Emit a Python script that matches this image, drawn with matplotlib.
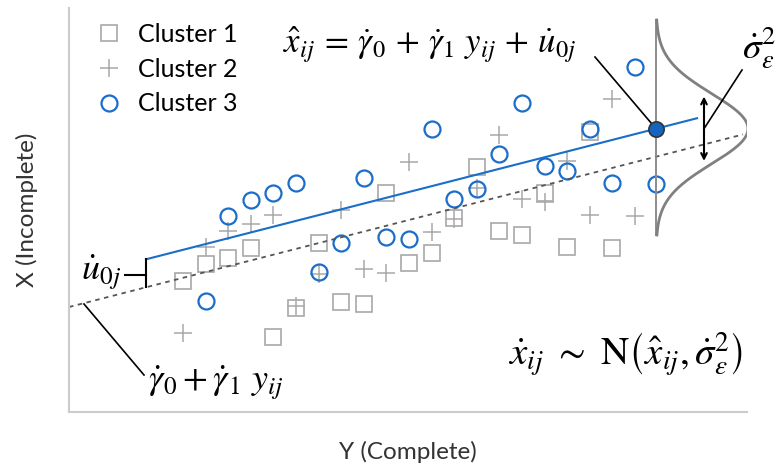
import numpy as np
import matplotlib.pyplot as plt

plt.rcParams['font.family'] = ['Lato', 'DejaVu Sans']
plt.rcParams['mathtext.fontset'] = 'stix'

# x positions shared by the clusters (pixel-like units from the axes origin)
x_grid = [114, 137, 159, 182, 204, 227, 250, 272, 295, 317, 340,
          363, 385, 408, 430, 453, 476, 498, 521, 543, 566, 587]

cluster1_x = x_grid[:20]
cluster1_y = [131, 148, 154, 164, 75, 104, 169, 110, 108, 219,
              149, 159, 194, 245, 181, 177, 219, 165, 280, 164]

cluster2_x = x_grid[:21]
cluster2_y = [79, 165, 181, 188, 197, 106, 138, 202, 143, 139,
              250, 180, 193, 224, 277, 213, 210, 251, 197, 313, 196]

cluster3_x = x_grid[1:]
cluster3_y = [111, 196, 212, 219, 229, 140, 169, 234, 175, 173,
              283, 213, 223, 258, 309, 246, 241, 283, 229, 345, 228]

# fixed part and random intercept
gamma0 = 105
gamma1 = 0.256
u0j = 28
line_start = 77
line_end = 628
dash_end = 674
x_focus = 587

# residual distribution
sigma_eps = 35
curve_height = 92
curve_top = 392
curve_bottom = 177

blue = '#1a6dc8'
grey_mark = '#a8a8a8'
math_size = 26

fig = plt.figure(figsize=(7.79, 4.68), dpi=100)
ax = fig.add_axes([69 / 779, 56 / 468, 678 / 779, 404 / 468])
ax.set_xlim(0, 678)
ax.set_ylim(0, 404)

ax.plot(cluster1_x, cluster1_y, 's', ms=11, mfc='none', mec=grey_mark, mew=1.2,
        label='Cluster 1')
ax.plot(cluster2_x, cluster2_y, '+', ms=13, mec=grey_mark, mew=1.1,
        label='Cluster 2')
ax.plot(cluster3_x, cluster3_y, 'o', ms=11.5, mfc='none', mec=blue, mew=1.6,
        label='Cluster 3')

# dashed fixed line and blue cluster line
xd = np.array([0, dash_end])
ax.plot(xd, gamma0 + gamma1 * xd, ls=(0, (2.5, 2.5)), color='#555555', lw=1.3)
xb = np.array([line_start, line_end])
ax.plot(xb, gamma0 + gamma1 * xb + u0j, color=blue, lw=1.5)

# vertical guide and normal curve
ax.plot([x_focus, x_focus], [curve_bottom, curve_top], color='#8c8c8c', lw=1.4)
mu = gamma0 + gamma1 * x_focus + u0j
yy = np.linspace(curve_bottom, curve_top, 200)
ax.plot(x_focus + curve_height * np.exp(-(yy - mu) ** 2 / (2 * sigma_eps ** 2)), yy,
        color='#808080', lw=2)

ax.plot([x_focus], [mu], 'o', ms=11, mfc='#1565c0', mec='#333333', mew=1.2, zorder=5)

# sigma arrow
ax.annotate('', xy=(635, mu + sigma_eps), xytext=(635, mu - sigma_eps),
            arrowprops=dict(arrowstyle='<->', color='black', lw=1.5))
ax.plot([635, 673], [mu, 342], color='black', lw=1.2)
ax.text(673, 364, r'$\dot{\sigma}^2_{\varepsilon}$', fontsize=math_size + 1,
        va='center', ha='left')

# equation pointer
ax.plot([526, x_focus], [355, mu], color='black', lw=1.2)
ax.text(214, 367, r'$\hat{x}_{ij}\/=\/\dot{\gamma}_0\/+\/\dot{\gamma}_1\ y_{ij}\/+\/\dot{u}_{0j}$',
        fontsize=math_size - 1, va='center', ha='left')

# u0j bracket
y_low = gamma0 + gamma1 * line_start
ax.plot([line_start, line_start], [y_low, y_low + u0j], color='black', lw=1.5)
ax.plot([56, line_start], [137, 137], color='black', lw=1.5)
ax.text(52, 140, r'$\dot{u}_{0j}$', fontsize=math_size, va='center', ha='right')

# gamma pointer
ax.plot([15, 75], [108, 37], color='black', lw=1.2)
ax.text(79, 29, r'$\dot{\gamma}_0 + \dot{\gamma}_1\ y_{ij}$', fontsize=math_size,
        va='center', ha='left')

ax.text(439, 57, r'$\dot{x}_{ij}\ \sim\ \mathrm{N}\left(\hat{x}_{ij},\dot{\sigma}^2_{\varepsilon}\right)$',
        fontsize=math_size + 2, va='center', ha='left')

for s in ['top', 'right']:
    ax.spines[s].set_visible(False)
for s in ['left', 'bottom']:
    ax.spines[s].set_color('#cccccc')
    ax.spines[s].set_linewidth(1.5)
ax.set_xticks([])
ax.set_yticks([])

ax.set_xlabel('Y (Complete)', fontsize=17.5, color='#333333', labelpad=21)
ax.set_ylabel('X (Incomplete)', fontsize=17.5, color='#333333', labelpad=22)

ax.legend(loc='upper left', bbox_to_anchor=(0.0406, 0.963), frameon=False, fontsize=18,
          handlelength=1.0, handletextpad=0.66, labelspacing=0.47,
          borderaxespad=0, borderpad=0)

fig.savefig('out.png', dpi=100)
